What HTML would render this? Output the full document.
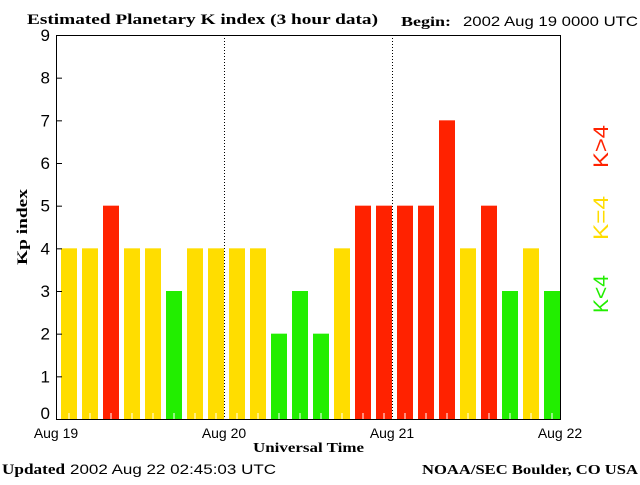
<!DOCTYPE html>
<html><head><style>
body{margin:0;background:#fff;}
svg text{font-family:"Liberation Serif",serif;}
</style></head><body>
<svg width="640" height="480" xmlns="http://www.w3.org/2000/svg">
<text x="27" y="24" font-size="15" font-weight="bold" textLength="351" lengthAdjust="spacingAndGlyphs">Estimated Planetary K index (3 hour data)</text>
<text x="401" y="26" font-size="14" font-weight="bold" textLength="50" lengthAdjust="spacingAndGlyphs">Begin:</text>
<text x="463" y="26" font-size="14" textLength="175" lengthAdjust="spacingAndGlyphs" style="font-family:'Liberation Sans',sans-serif">2002 Aug 19 0000 UTC</text>
<g id="bars"></g>
<g id="axes"></g>
<text transform="translate(27,227) rotate(-90)" text-anchor="middle" font-size="15" font-weight="bold" textLength="76" lengthAdjust="spacingAndGlyphs">Kp index</text>
<text x="253" y="452" font-size="14" font-weight="bold" textLength="111" lengthAdjust="spacingAndGlyphs">Universal Time</text>
<text x="2" y="474" font-size="15" font-weight="bold" textLength="63" lengthAdjust="spacingAndGlyphs">Updated</text>
<text x="70" y="474" font-size="14" textLength="206" lengthAdjust="spacingAndGlyphs" style="font-family:'Liberation Sans',sans-serif">2002 Aug 22 02:45:03 UTC</text>
<text x="422" y="474" font-size="14" font-weight="bold" textLength="216" lengthAdjust="spacingAndGlyphs">NOAA/SEC Boulder, CO USA</text>
<text transform="translate(608,313) rotate(-90)" font-size="21" fill="#22ee00" textLength="38" lengthAdjust="spacingAndGlyphs" style="font-family:'Liberation Sans',sans-serif">K&lt;4</text>
<text transform="translate(608,240) rotate(-90)" font-size="21" fill="#ffdd00" textLength="44" lengthAdjust="spacingAndGlyphs" style="font-family:'Liberation Sans',sans-serif">K=4</text>
<text transform="translate(608,168) rotate(-90)" font-size="21" fill="#ff2200" textLength="43" lengthAdjust="spacingAndGlyphs" style="font-family:'Liberation Sans',sans-serif">K&gt;4</text>
</svg>
<script>
const kpValues=[4,4,5,4,4,3,4,4,4,4,2,3,2,4,5,5,5,5,7,4,5,3,4,3];
const dayLabels=["Aug 19","Aug 20","Aug 21","Aug 22"];
const yTicks=[0,1,2,3,4,5,6,7,8,9];
const NS="http://www.w3.org/2000/svg";
const L=56,R=560,T=35,B=419;
const y=v=>B-(B-T)*v/9;
const slot=(R-L)/kpValues.length;
const x=i=>L+i*slot;
function mk(tag,attrs,parent){const e=document.createElementNS(NS,tag);for(const k in attrs)e.setAttribute(k,attrs[k]);parent.appendChild(e);return e;}
const bars=document.getElementById('bars'),axes=document.getElementById('axes');
kpValues.forEach((v,i)=>{
  const c=v<4?"#22ee00":v==4?"#ffdd00":"#ff2200";
  const r=mk('rect',{x:x(i)+5,y:y(v),width:slot-5,height:B-y(v),fill:c},bars);
  
  
  const t=mk('line',{x1:x(i)+13,x2:x(i)+13,y1:B,y2:B-6,stroke:"#fff","stroke-width":1},bars);
  
  
});
[1,2].forEach(d=>{const l=mk('line',{x1:L+d*(R-L)/3+0.5,x2:L+d*(R-L)/3+0.5,y1:T,y2:B,stroke:"#000","stroke-dasharray":"1,2"},axes);
});
const fr=mk('rect',{x:L+0.5,y:T+0.5,width:R-L,height:B-T,fill:"none",stroke:"#000"},axes);

yTicks.forEach(v=>{
  mk('line',{x1:L,x2:L+6,y1:y(v)+0.5,y2:y(v)+0.5,stroke:"#000"},axes);
  const t=mk('text',{x:L-6,y:y(v)+(v==0?0:6),"text-anchor":"end","font-size":"17",style:"font-family:'Liberation Sans',sans-serif"},axes);
  t.textContent=v;
  
});
dayLabels.forEach((d,i)=>{
  const t=mk('text',{x:L+i*(R-L)/3,y:438,"text-anchor":"middle","font-size":"14",style:"font-family:'Liberation Sans',sans-serif"},axes);
  t.textContent=d;
  
});
</script>
</body></html>
